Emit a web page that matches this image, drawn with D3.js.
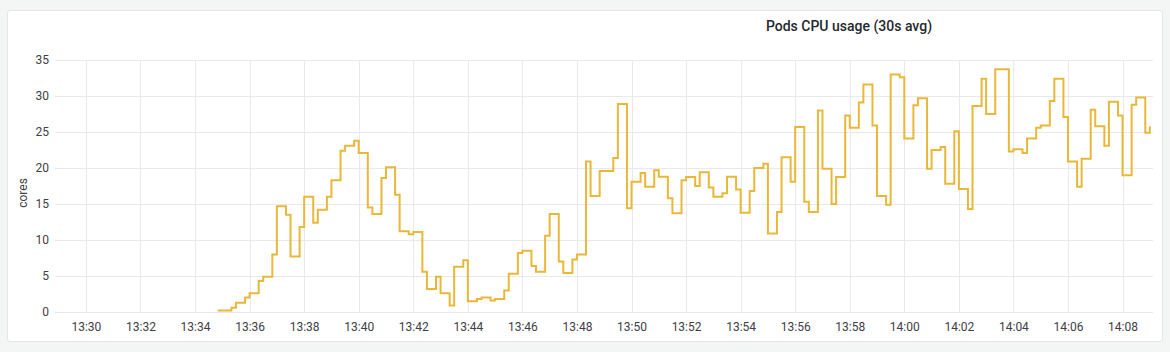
<!DOCTYPE html>
<html>
<head>
<meta charset="utf-8">
<script src="https://cdn.jsdelivr.net/npm/d3@7"></script>
<style>
  html, body { margin: 0; padding: 0; background: #f4f5f5; }
  body { width: 1170px; height: 352px; overflow: hidden; font-family: Roboto, "Noto Sans", sans-serif; }
  #panel { position: absolute; left: 7px; top: 10px; width: 1156px; height: 332px;
           background: #fff; border: 1px solid #e4e5e6; border-radius: 3px; box-sizing: border-box; }
  svg { position: absolute; left: 0; top: 0; }
</style>
</head>
<body>
<div id="panel"></div>
<svg id="chart" width="1170" height="352"></svg>
<script>
// Pods CPU usage (30s avg) - staircase line, samples at :x0 / :x0+10s alternating
const chartTitle = "Pods CPU usage (30s avg)"
const yLabel = "cores"
const seriesStart = "13:34:50"
const sampleOffsets = [0, 10]   // seconds inside each 30s cycle
const yTicks = [0, 5, 10, 15, 20, 25, 30, 35]
const cpuValues = [
  0.2, 0.2, 0.6, 1.3, 2.0, 2.6, 4.3, 4.9, 8.0, 14.7,
  13.5, 7.7, 11.8, 16.0, 12.4, 14.2, 16.0, 18.3, 22.4, 23.1,
  23.8, 22.1, 14.5, 13.6, 18.6, 20.1, 16.3, 11.2, 10.8, 11.1,
  5.6, 3.2, 4.9, 2.6, 0.9, 6.3, 7.2, 1.5, 1.8, 2.0,
  1.6, 1.8, 3.0, 5.3, 8.2, 8.5, 6.4, 5.6, 10.6, 13.6,
  7.0, 5.4, 7.3, 8.0, 20.9, 16.1, 19.6, 19.6, 21.4, 28.9,
  14.4, 18.1, 19.3, 17.4, 19.7, 18.8, 15.8, 13.7, 18.3, 18.75,
  17.5, 19.4, 17.3, 16.0, 16.5, 18.8, 17.0, 13.8, 16.8, 20.0,
  20.6, 10.9, 13.9, 21.5, 18.1, 25.7, 15.3, 13.9, 28.0, 19.9,
  15.0, 18.75, 27.3, 25.6, 29.1, 31.6, 25.9, 16.1, 14.9, 33.0,
  32.6, 24.1, 28.7, 29.7, 19.9, 22.5, 22.9, 17.8, 25.1, 17.1,
  14.3, 28.6, 32.4, 27.5, 33.7, 33.7, 22.3, 22.6, 22.1, 24.1,
  25.6, 25.9, 29.3, 32.4, 27.1, 20.9, 17.4, 21.3, 28.1, 25.8,
  23.1, 29.2, 27.3, 19.0, 28.8, 29.8, 24.9, 25.8
]

const parseT = d3.timeParse("%H:%M:%S")
const t0 = parseT(seriesStart)
const data = cpuValues.map((v, i) => ({
  t: d3.timeSecond.offset(t0, Math.floor(i / 2) * 30 + sampleOffsets[i % 2]),
  v: v
}))

const svg = d3.select("#chart")
const plot = {left: 55, right: 1153, top: 60, bottom: 312}

const x = d3.scaleTime()
  .domain([parseT("13:28:52"), parseT("14:09:07")])
  .range([plot.left, plot.right])
const y = d3.scaleLinear()
  .domain([0, 35])
  .range([plot.bottom, plot.top])

// grid
const grid = svg.append("g").style("stroke", "#e9e9e9").style("stroke-width", 1)
grid.selectAll("line.h")
  .data(yTicks).enter()
  .append("line")
  .attr("class", "h")
  .attr("x1", plot.left).attr("x2", plot.right)
  .attr("y1", d => Math.round(y(d)) + 0.5).attr("y2", d => Math.round(y(d)) + 0.5)
const xTicks = x.ticks(d3.timeMinute.every(2))
grid.selectAll("line.v")
  .data(xTicks).enter()
  .append("line")
  .attr("class", "v")
  .attr("x1", d => Math.round(x(d)) + 0.5).attr("x2", d => Math.round(x(d)) + 0.5)
  .attr("y1", plot.top).attr("y2", plot.bottom)

// axes
const xAxis = svg.append("g")
  .attr("transform", "translate(0," + plot.bottom + ")")
  .call(d3.axisBottom(x).ticks(d3.timeMinute.every(2)).tickFormat(d3.timeFormat("%H:%M")).tickSize(0).tickPadding(10))
xAxis.select(".domain").remove()
xAxis.selectAll("text")
  .style("font-family", "Roboto, sans-serif").style("font-size", "12px").style("fill", "#3d4046")

const yAxis = svg.append("g")
  .attr("transform", "translate(" + 49 + ",0)")
  .call(d3.axisLeft(y).tickValues(yTicks).tickSize(0).tickPadding(0))
yAxis.select(".domain").remove()
yAxis.selectAll("text")
  .style("font-family", "Roboto, sans-serif").style("font-size", "12px").style("fill", "#3d4046")

svg.append("text")
  .attr("transform", "translate(27," + 193 + ") rotate(-90)")
  .attr("text-anchor", "middle")
  .style("font-family", "Roboto, sans-serif").style("font-size", "12px").style("fill", "#3d4046")
  .text(yLabel)

svg.append("text")
  .attr("x", 849).attr("y", 31)
  .attr("text-anchor", "middle")
  .style("font-family", "Roboto, sans-serif").style("font-size", "14px").style("font-weight", "500")
  .style("fill", "#24292e")
  .text(chartTitle)

// series
const line = d3.line()
  .x(d => x(d.t))
  .y(d => y(d.v))
  .curve(d3.curveStepAfter)

svg.append("path")
  .datum(data)
  .attr("d", line)
  .style("fill", "none")
  .style("stroke", "#EAB839")
  .style("stroke-width", 2)
</script>
</body>
</html>
